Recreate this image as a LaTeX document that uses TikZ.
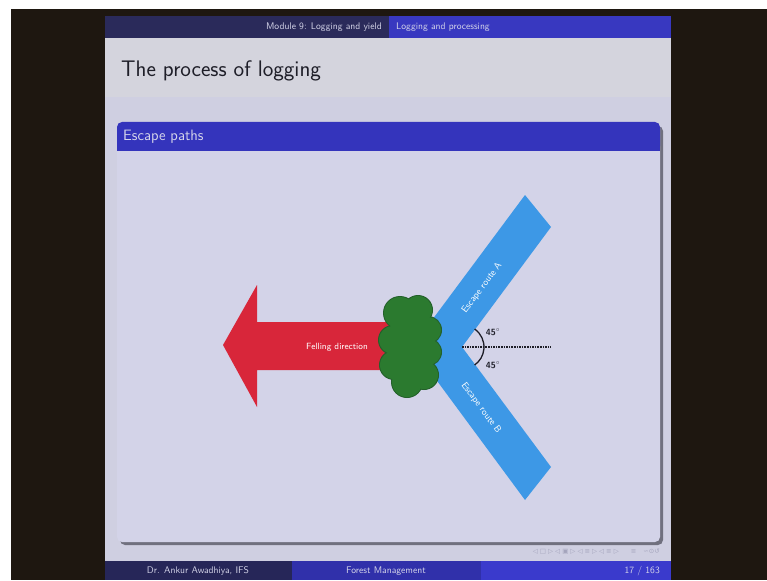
\documentclass[tikz,border=0pt]{standalone}
\usepackage{fontspec}
\newfontfamily\djv{DejaVu Sans}
\definecolor{framebg}{HTML}{1E1710}
\definecolor{slidebg}{HTML}{CFCFE1}
\definecolor{titlebg}{HTML}{D4D4DD}
\definecolor{headdark}{HTML}{2A2A5A}
\definecolor{headblue}{HTML}{3838C0}
\definecolor{blocktitle}{HTML}{3434BC}
\definecolor{blockbody}{HTML}{D3D3E8}
\definecolor{shadowc}{HTML}{70707E}
\definecolor{footleft}{HTML}{262658}
\definecolor{footmid}{HTML}{3030AA}
\definecolor{footright}{HTML}{3A3ACC}
\definecolor{redarrow}{HTML}{D8263A}
\definecolor{bandblue}{HTML}{3D98E6}
\definecolor{treegreen}{HTML}{2B7A2F}
\definecolor{treedark}{HTML}{23602A}
\definecolor{titletext}{HTML}{1E1E28}
\definecolor{headtext}{HTML}{D6D6EA}
\definecolor{navc}{HTML}{A4A4BC}
\begin{document}
\begin{tikzpicture}[x=1pt,y=-1pt,
  hdtext/.style={font=\sffamily\fontsize{9.6}{11}\selectfont, text=headtext, inner sep=0},
  figtext/.style={font=\sffamily\fontsize{9}{10}\selectfont, text=white, inner sep=0},
  degtext/.style={font=\sffamily\bfseries\fontsize{9}{10}\selectfont, text=titletext, inner sep=0}]
\useasboundingbox (0,0) rectangle (767,580);
\fill[framebg] (0,0) rectangle (767,580);
\fill[white] (0,0) rectangle (767,9);
\fill[white] (0,0) rectangle (11,580);
% slide
\fill[slidebg] (105,16) rectangle (671,580);
\fill[titlebg] (105,38) rectangle (671,97);
% header
\fill[headdark] (105,16) rectangle (389,38);
\fill[headblue] (389,16) rectangle (671,38);
\node[hdtext, anchor=east] (sec) at (382,27) {Module 9: Logging and yield};
\node[hdtext, anchor=west] (subsec) at (396,27) {Logging and processing};
\node[font=\sffamily\fontsize{22.5}{25}\selectfont, anchor=base west, text=titletext, inner sep=0] (title) at (121,77) {The process of logging};
% block
\fill[shadowc, rounded corners=5] (120,126) rectangle (663,545);
\fill[blockbody, rounded corners=5] (117,122) rectangle (660,542);
\fill[blocktitle, rounded corners=5] (117,122) rectangle (660,151);
\fill[blocktitle] (117,140) rectangle (660,151);
\node[font=\sffamily\fontsize{15}{17}\selectfont, text=headtext, anchor=west, inner sep=0] (btitle) at (123,137) {Escape paths};
% navigation symbols
\node[font=\djv\fontsize{6.5}{7}\selectfont, text=navc, anchor=east, inner sep=0] (nav) at (660,552) {◁ □ ▷ ◁ ▣ ▷ ◁ ≡ ▷ ◁ ≡ ▷ \hspace{8pt} ≡ \hspace{3pt} ∽⊙↺};
% footer
\fill[footleft] (105,561) rectangle (292,580);
\fill[footmid] (292,561) rectangle (481,580);
\fill[footright] (481,561) rectangle (671,580);
\node[hdtext] (author) at (198,571) {Dr. Ankur Awadhiya, IFS};
\node[hdtext] (course) at (386,571) {Forest Management};
\node[hdtext, anchor=east] (page) at (660,571) {17 / 163};
% diagram
\coordinate (V) at (462,347);
\coordinate (dotend) at (551,347);
\fill[redarrow] (223,345) -- (257,285) -- (257,322) -- (395,322) -- (395,370) -- (257,370) -- (257,407) -- cycle;
\node[figtext] (fell) at (337,347) {Felling direction};
\fill[bandblue] (V) -- (551,227) -- (525,195) -- (412,347) -- (525,500) -- (551,467) -- cycle;
\node[figtext, rotate=53.4, font=\sffamily\fontsize{9.5}{10}\selectfont] (routeA) at (482,288) {Escape route A};
\node[figtext, rotate=-53.4, font=\sffamily\fontsize{9.5}{10}\selectfont] (routeB) at (481,408) {Escape route B};
\draw[densely dotted, line width=1.6pt, color=titletext] (V) -- (dotend);
\draw[line width=1.3pt, color=titletext] (V) ++(-55:22) arc[start angle=-55, end angle=55, radius=22];
\node[degtext] (degA) at (493,332) {45$^{\circ}$};
\node[degtext] (degB) at (493,365) {45$^{\circ}$};
% tree
\foreach \x/\y/\r in {400/313/16, 418/310/14, 428/330/13, 428/352/13, 424/375/14, 407/382/15, 394/365/14, 393/340/14, 411/346/24}
  \fill[treedark] (\x,\y) circle (\r+1);
\foreach \x/\y/\r in {400/313/16, 418/310/14, 428/330/13, 428/352/13, 424/375/14, 407/382/15, 394/365/14, 393/340/14, 411/346/24}
  \fill[treegreen] (\x,\y) circle (\r);
\end{tikzpicture}
\end{document}
